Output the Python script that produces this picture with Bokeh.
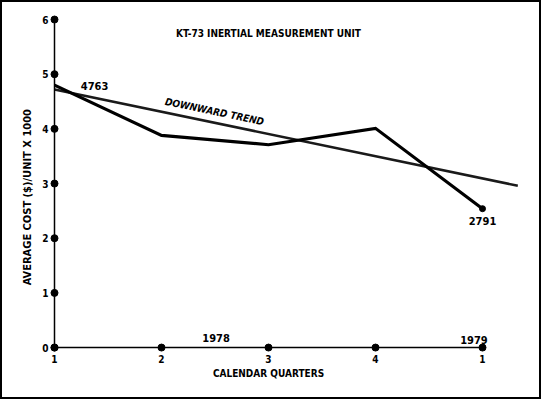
import math
from bokeh.plotting import figure
from bokeh.models import LinearAxis, FixedTicker, Range1d
from bokeh.core.properties import value
from bokeh.embed import file_html
from bokeh.resources import INLINE

# ---- data ----
quarters = [1, 2, 3, 4, 5]
quarter_labels = ["1", "2", "3", "4", "1"]
avg_cost = [4.80, 3.88, 3.71, 4.01, 2.54]
trend_x = [1.0, 5.33]
trend_y = [4.72, 2.96]
y_ticks = [0, 1, 2, 3, 4, 5, 6]
title_text = "KT-73 INERTIAL MEASUREMENT UNIT"
y_title = "AVERAGE COST ($)/UNIT X 1000"
x_title = "CALENDAR QUARTERS"
first_label = "4763"
last_label = "2791"
year_labels = ["1978", "1979"]
year_x = [2.51, 4.92]
year_y = [0.17, 0.13]

FONT = "DejaVu Sans Condensed"

p = figure(width=541, height=399, output_backend="svg", toolbar_location=None,
           x_axis_location=None, y_axis_location=None, min_border=0,
           x_range=Range1d(0.4953, 5.5514), y_range=Range1d(-0.950, 6.348))
p.grid.visible = False
p.outline_line_color = "black"
p.outline_line_width = 3
p.background_fill_color = "white"
p.border_fill_color = "white"

# axes at fixed locations
yaxis = LinearAxis(fixed_location=1, bounds=(0, 6), ticker=FixedTicker(ticks=y_ticks))
yaxis.axis_line_width = 1.5
yaxis.axis_line_color = "black"
yaxis.major_tick_line_color = None
yaxis.minor_tick_line_color = None
yaxis.major_tick_out = 0
yaxis.major_tick_in = 0
yaxis.major_label_standoff = 6
yaxis.major_label_text_font = FONT
yaxis.major_label_text_font_style = "bold"
yaxis.major_label_text_font_size = "10px"
yaxis.major_label_text_color = "black"
p.add_layout(yaxis, "left")

xaxis = LinearAxis(fixed_location=0, bounds=(1, 5), ticker=FixedTicker(ticks=quarters))
xaxis.major_label_overrides = {q: l for q, l in zip(quarters, quarter_labels)}
xaxis.axis_line_width = 1.5
xaxis.axis_line_color = "black"
xaxis.major_tick_line_color = None
xaxis.minor_tick_line_color = None
xaxis.major_tick_out = 0
xaxis.major_tick_in = 0
xaxis.major_label_standoff = 7
xaxis.major_label_text_font = FONT
xaxis.major_label_text_font_style = "bold"
xaxis.major_label_text_font_size = "10px"
xaxis.major_label_text_color = "black"
xaxis.axis_label = x_title
xaxis.axis_label_text_font = FONT
xaxis.axis_label_text_font_style = "bold"
xaxis.axis_label_text_font_size = "10px"
xaxis.axis_label_text_color = "black"
xaxis.axis_label_standoff = 2
p.add_layout(xaxis, "below")

# y axis title as rotated text
p.text([0.748], [2.75], text=[y_title], angle=math.pi / 2, text_align="center",
       text_baseline="middle", text_font=value(FONT), text_font_style="bold",
       text_font_size="11px", text_color="black")

# tick dots
p.scatter([1] * len(y_ticks), y_ticks, size=7, color="black")
p.scatter(quarters, [0] * len(quarters), size=7, color="black")

# trend line and data
p.line(trend_x, trend_y, line_width=2.5, line_color="#1a1a1a")
p.line(quarters, avg_cost, line_width=3.2, line_color="black", line_join="miter")
p.scatter([quarters[-1]], [avg_cost[-1]], size=6, color="black")

# texts
p.text([3], [5.744], text=[title_text], text_align="center", text_baseline="middle",
       text_font=value(FONT), text_font_style="bold", text_font_size="10px", text_color="black")
p.text([1.374], [4.79], text=[first_label], text_align="center", text_baseline="middle",
       text_font=value(FONT), text_font_style="bold", text_font_size="11px", text_color="black")
p.text([5.0], [2.32], text=[last_label], text_align="center", text_baseline="middle",
       text_font=value(FONT), text_font_style="bold", text_font_size="11px", text_color="black")
p.text(year_x, year_y, text=year_labels, text_align="center", text_baseline="middle",
       text_font=value(FONT), text_font_style="bold", text_font_size="11px", text_color="black")
p.text([2.495], [4.317], text=["DOWNWARD TREND"], angle=-0.204, text_align="center",
       text_baseline="middle", text_font=value(FONT), text_font_style="bold italic",
       text_font_size="10px", text_color="black")

open("out.html", "w").write(file_html(p, INLINE))
